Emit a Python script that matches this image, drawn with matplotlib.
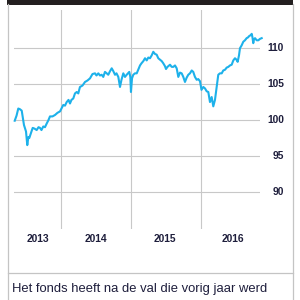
import matplotlib
matplotlib.use("Agg")
import matplotlib.pyplot as plt
from matplotlib.transforms import blended_transform_factory
from matplotlib.lines import Line2D
from matplotlib.patches import Rectangle

# ---- data (decimal years, index value) ----
years = [
    2013.341, 2013.367, 2013.392, 2013.416, 2013.441, 2013.459, 2013.473, 2013.502, 2013.520, 2013.535,
    2013.549, 2013.573, 2013.597, 2013.623, 2013.654, 2013.680, 2013.701, 2013.722, 2013.748, 2013.772,
    2013.796, 2013.822, 2013.843, 2013.879, 2013.915, 2013.950, 2013.986, 2014.007, 2014.033, 2014.057,
    2014.081, 2014.107, 2014.128, 2014.149, 2014.175, 2014.199, 2014.224, 2014.246, 2014.270, 2014.306,
    2014.342, 2014.377, 2014.413, 2014.448, 2014.484, 2014.505, 2014.531, 2014.555, 2014.579, 2014.602,
    2014.626, 2014.651, 2014.673, 2014.698, 2014.722, 2014.745, 2014.769, 2014.790, 2014.816, 2014.840,
    2014.861, 2014.887, 2014.911, 2014.935, 2014.954, 2014.972, 2014.987, 2014.996, 2015.011, 2015.029,
    2015.053, 2015.078, 2015.100, 2015.125, 2015.146, 2015.172, 2015.196, 2015.220, 2015.243, 2015.267,
    2015.291, 2015.314, 2015.338, 2015.362, 2015.385, 2015.409, 2015.434, 2015.456, 2015.480, 2015.495,
    2015.516, 2015.552, 2015.576, 2015.599, 2015.623, 2015.647, 2015.670, 2015.694, 2015.718, 2015.741,
    2015.765, 2015.789, 2015.812, 2015.836, 2015.861, 2015.883, 2015.907, 2015.932, 2015.954, 2015.979,
    2016.000, 2016.026, 2016.050, 2016.074, 2016.097, 2016.121, 2016.145, 2016.168, 2016.192, 2016.216,
    2016.239, 2016.263, 2016.288, 2016.310, 2016.335, 2016.359, 2016.382, 2016.406, 2016.430, 2016.453,
    2016.477, 2016.498, 2016.515, 2016.534, 2016.548, 2016.572, 2016.595, 2016.619, 2016.643, 2016.662,
    2016.680, 2016.698, 2016.715, 2016.726, 2016.737, 2016.747, 2016.762, 2016.786, 2016.809, 2016.833,
    2016.857,
]
values = [
    99.9, 100.6, 101.6, 101.5, 101.3, 100.2, 99.3, 98.4, 96.5, 97.6,
    97.5, 98.2, 98.9, 98.8, 98.6, 99.0, 98.9, 98.6, 99.1, 99.0,
    99.5, 100.0, 100.5, 100.5, 100.7, 101.0, 101.2, 101.6, 102.1, 102.0,
    102.5, 102.8, 102.3, 102.8, 103.0, 103.7, 103.9, 103.7, 104.6, 104.8,
    105.3, 105.5, 105.8, 106.4, 106.5, 106.2, 106.5, 106.2, 106.3, 106.0,
    106.7, 106.5, 106.3, 106.8, 107.2, 106.8, 106.3, 106.5, 106.0, 104.6,
    105.6, 106.5, 106.0, 106.3, 106.5, 106.7, 106.0, 103.9, 105.8, 106.3,
    106.5, 106.5, 107.0, 107.6, 107.9, 108.2, 108.6, 108.3, 108.7, 108.6,
    109.0, 109.5, 109.2, 109.1, 108.6, 108.4, 108.2, 107.9, 107.5, 107.1,
    107.4, 107.7, 107.4, 107.4, 107.6, 107.2, 106.0, 106.6, 106.5, 106.0,
    105.3, 105.9, 106.3, 106.5, 106.9, 106.7, 106.0, 105.6, 105.7, 105.4,
    104.2, 104.6, 104.4, 104.0, 103.9, 102.5, 103.2, 101.9, 102.8, 104.6,
    106.3, 106.5, 106.5, 106.9, 107.0, 107.3, 107.4, 107.6, 107.7, 108.3,
    108.6, 108.4, 108.1, 109.0, 110.0, 110.4, 110.9, 111.1, 111.4, 111.5,
    111.7, 111.8, 112.0, 111.5, 110.7, 111.2, 111.4, 111.1, 111.1, 111.3,
    111.4,
]
y_ticks = [90, 95, 100, 105, 110]
year_gridlines = [2014, 2015, 2016]
year_labels = ["2013", "2014", "2015", "2016"]
year_label_pos = [2013.67, 2014.5, 2015.48, 2016.45]
caption = "Het fonds heeft na de val die vorig jaar werd"

W = H = 300
fig = plt.figure(figsize=(3, 3), dpi=100)
fig.patch.set_facecolor("white")

def fx(px):
    return px / W

def fy(py):
    return 1 - py / H

ax = fig.add_axes([fx(14), fy(229), fx(260) - fx(14), (229 - 10) / H])
ax.set_xlim(2013.331, 2016.833)
ax.set_ylim(84.82, 115.32)
ax.axis("off")

grid_c = "#c8c8c8"
for v in y_ticks:
    ax.axhline(v, color=grid_c, lw=0.8, zorder=1)
for yr in year_gridlines:
    ax.axvline(yr, color=grid_c, lw=0.8, zorder=1)

ax.plot(years, values, color="#1db1ea", lw=1.5, zorder=3, clip_on=False,
        solid_joinstyle="round")

txt_c = "#1e1e3c"
font_bold = dict(family=["Liberation Sans", "DejaVu Sans"], weight="bold")
tr_y = blended_transform_factory(fig.transFigure, ax.transData)
for v in y_ticks:
    ax.text(fx(284), v, str(v), transform=tr_y, ha="right", va="center",
            fontsize=7.4, color=txt_c, **font_bold)

tr_x = blended_transform_factory(ax.transData, fig.transFigure)
for lab, pos in zip(year_labels, year_label_pos):
    ax.text(pos, fy(239), lab, transform=tr_x, ha="center", va="center",
            fontsize=7.4, color=txt_c, **font_bold)

# frame
frame_c = "#c4c4c4"
fig.add_artist(Line2D([fx(7.5), fx(7.5)], [fy(4), fy(300)], color=frame_c, lw=0.9))
fig.add_artist(Line2D([fx(292.5), fx(292.5)], [fy(4), fy(300)], color=frame_c, lw=0.9))
fig.add_artist(Line2D([fx(7.5), fx(292.5)], [fy(273), fy(273)], color=frame_c, lw=0.9))
fig.add_artist(Rectangle((fx(7), fy(4.5)), fx(293) - fx(7), 4.5 / H,
                         transform=fig.transFigure, color="#231f20", lw=0))

fig.text(fx(12), fy(292), caption, ha="left", va="baseline", fontsize=9.4,
         color=txt_c, family=["Liberation Sans", "DejaVu Sans"])

fig.savefig("out.png", dpi=100)
